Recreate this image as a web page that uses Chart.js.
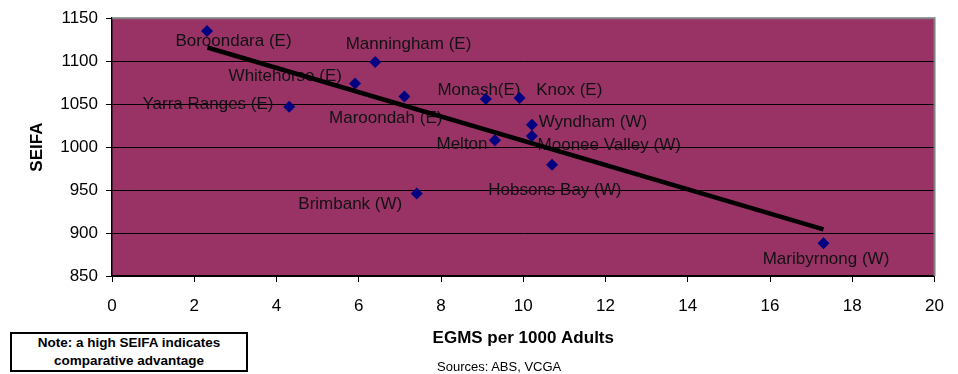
<!DOCTYPE html>
<html><head><meta charset="utf-8">
<script src="https://cdn.jsdelivr.net/npm/chart.js@4/dist/chart.umd.min.js"></script>
<style>
html,body{margin:0;padding:0;background:#fff;}
#wrap{position:relative;width:958px;height:374px;overflow:hidden;}
canvas{position:absolute;left:0;top:0;}
#note{position:absolute;left:10px;top:332px;width:234px;height:36px;border:2px solid #000;background:#fff;font:bold 13.5px "Liberation Sans",Arial,sans-serif;text-align:center;line-height:18px;color:#000;}
#src{position:absolute;left:437px;top:359px;font:13px "Liberation Sans",Arial,sans-serif;line-height:15px;color:#000;white-space:nowrap;}
</style></head>
<body><div id="wrap"><canvas id="c" width="958" height="374"></canvas>
<div id="note">Note: a high SEIFA indicates<br>comparative advantage</div>
<div id="src">Sources: ABS, VCGA</div></div>
<script>
// ---- data ----
const councils = ["Boroondara (E)","Manningham (E)","Whitehorse (E)","Yarra Ranges (E)","Maroondah (E)","Monash(E)","Knox (E)","Wyndham (W)","Moonee Valley (W)","Melton","Hobsons Bay (W)","Brimbank (W)","Maribyrnong (W)"];
const egms  = [2.31, 6.40, 5.91, 4.31, 7.11, 9.09, 9.91, 10.21, 10.21, 9.31, 10.70, 7.41, 17.30];
const seifa = [1135, 1099, 1074, 1047, 1059, 1056, 1057, 1026, 1013, 1008, 979.5, 946, 888];
const trendX = [2.32, 17.30];
const trendY = [1115.9, 904.3];
const xTicks = [0, 2, 4, 6, 8, 10, 12, 14, 16, 18, 20];
const yTicks = [850, 900, 950, 1000, 1050, 1100, 1150];

// ---- label placement (layout, pixels relative to point) ----
const labelOffsets = [[26.5,8.5],[33.3,-18.8],[-69.8,-8.3],[-81.3,-3.7],[-18.7,21],[-6.9,-10.5],[49.7,-9.5],[61,-4],[77.3,7.7],[-32.9,2.7],[2.8,24.3],[-66.5,9.5],[2.5,14.5]];

const FONT = '"Liberation Sans", Arial, sans-serif';

const points = egms.map((x, i) => ({x: x, y: seifa[i]}));
const trend = trendX.map((x, i) => ({x: x, y: trendY[i]}));

const bgPlugin = {
  id: 'bg',
  beforeDraw(chart) {
    const {ctx, chartArea: a} = chart;
    ctx.save();
    ctx.fillStyle = '#993366';
    ctx.fillRect(a.left, a.top, a.right - a.left, a.bottom - a.top);
    ctx.restore();
  },
  afterDraw(chart) {
    const {ctx, chartArea: a} = chart;
    ctx.save();
    ctx.strokeStyle = '#808080';
    ctx.lineWidth = 2;
    ctx.beginPath();
    ctx.moveTo(a.left, a.top);
    ctx.lineTo(a.right, a.top);
    ctx.lineTo(a.right, a.bottom);
    ctx.stroke();
    ctx.restore();
  }
};

const labelPlugin = {
  id: 'lbl',
  beforeDatasetsDraw(chart) {
    const {ctx} = chart;
    const meta = chart.getDatasetMeta(0);
    ctx.save();
    ctx.font = '17px ' + FONT;
    ctx.fillStyle = '#111';
    ctx.textAlign = 'center';
    ctx.textBaseline = 'alphabetic';
    meta.data.forEach((el, i) => {
      const o = labelOffsets[i];
      ctx.fillText(councils[i], el.x + o[0], el.y + o[1] + 6.1);
    });
    ctx.restore();
  }
};

new Chart(document.getElementById('c'), {
  type: 'scatter',
  data: {
    datasets: [
      {label: 'SEIFA', data: points, order: 1, pointStyle: 'rectRot', pointRadius: 6, pointHoverRadius: 6,
       backgroundColor: '#000080', borderColor: '#000080', borderWidth: 0},
      {label: 'Trend', data: trend, order: 0, type: 'line', showLine: true, borderColor: '#000', borderWidth: 4.5,
       pointRadius: 0, fill: false, borderCapStyle: 'butt'}
    ]
  },
  options: {
    responsive: false, animation: false, devicePixelRatio: 1,
    layout: {padding: {left: 0, top: 16, right: 21, bottom: 0}},
    plugins: {legend: {display: false}, tooltip: {enabled: false}},
    scales: {
      x: {
        type: 'linear', min: 0, max: 20,
        afterBuildTicks: s => { s.ticks = xTicks.map(v => ({value: v})); },
        afterFit: s => { s.height = 98; },
        ticks: {font: {family: FONT, size: 17}, color: '#000', padding: 14, maxRotation: 0, callback: v => String(v)},
        grid: {drawOnChartArea: false, drawTicks: true, tickLength: 6, color: '#000', lineWidth: 1},
        border: {color: '#000', width: 1.5},
        title: {display: true, text: 'EGMS per 1000 Adults', color: '#000', font: {family: FONT, size: 17, weight: 'bold'}, padding: {top: 0, bottom: 25}}
      },
      y: {
        type: 'linear', min: 850, max: 1150,
        afterBuildTicks: s => { s.ticks = yTicks.map(v => ({value: v})); },
        afterFit: s => { s.width = 112; },
        ticks: {font: {family: FONT, size: 17}, color: '#000', padding: 8, callback: v => String(v)},
        grid: {color: '#000', lineWidth: 1, tickLength: 6},
        border: {color: '#000', width: 1.5},
        title: {display: true, text: 'SEIFA', color: '#000', font: {family: FONT, size: 17, weight: 'bold'}, padding: {top: 27, bottom: 0}}
      }
    }
  },
  plugins: [bgPlugin, labelPlugin]
});
</script>
</body></html>
